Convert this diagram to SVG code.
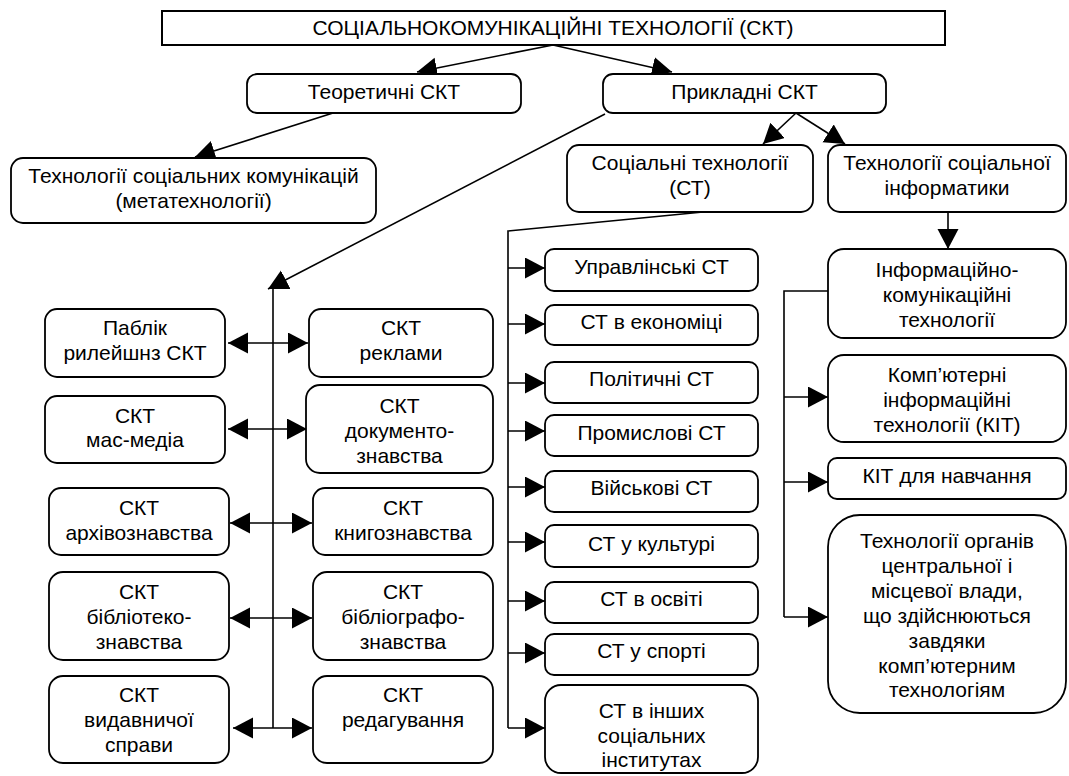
<svg xmlns="http://www.w3.org/2000/svg" width="1069" height="776" viewBox="0 0 1069 776">
<style>
  .box { fill: #fff; stroke: #000; stroke-width: 1.8; }
  .t { font-family: "Liberation Sans", Arial, sans-serif; font-size: 21px; fill: #000; text-anchor: middle; }
  .c { fill: none; stroke: #000; stroke-width: 1.6; }
  .a { marker-end: url(#ah); }
  .d { marker-start: url(#ah); marker-end: url(#ah); }
</style>
<defs>
  <marker id="ah" markerUnits="userSpaceOnUse" markerWidth="21" markerHeight="22" refX="20" refY="10.5" orient="auto-start-reverse" viewBox="0 0 21 22">
    <path d="M0,0 L20,10.5 L0,21 z" fill="#000"/>
  </marker>
</defs>
<rect width="1069" height="776" fill="#fff"/>

<g id="connectors">
  <line class="c a" x1="553" y1="45" x2="417" y2="72"/>
  <line class="c a" x1="553" y1="45" x2="672" y2="72"/>
  <line class="c a" x1="333" y1="113" x2="195" y2="157"/>
  <line class="c a" x1="605" y1="114" x2="268" y2="289"/>
  <line class="c a" x1="796" y1="113" x2="763" y2="144"/>
  <line class="c a" x1="796" y1="113" x2="845" y2="144"/>
  <line class="c a" x1="948" y1="212" x2="948" y2="249"/>
  <!-- left spine -->
  <line class="c" x1="273" y1="288" x2="273" y2="728"/>
  <line class="c d" x1="228" y1="343" x2="308" y2="343"/>
  <line class="c d" x1="228" y1="429" x2="307" y2="429"/>
  <line class="c d" x1="230" y1="523" x2="312" y2="523"/>
  <line class="c d" x1="230" y1="618" x2="312" y2="618"/>
  <line class="c d" x1="233" y1="728" x2="312" y2="728"/>
  <!-- middle spine -->
  <polyline class="c" points="703,212 508,231 508,728"/>
  <line class="c a" x1="508" y1="268" x2="545" y2="268"/>
  <line class="c a" x1="508" y1="324" x2="545" y2="324"/>
  <line class="c a" x1="508" y1="383" x2="545" y2="383"/>
  <line class="c a" x1="508" y1="431" x2="545" y2="431"/>
  <line class="c a" x1="508" y1="487" x2="545" y2="487"/>
  <line class="c a" x1="508" y1="542" x2="545" y2="542"/>
  <line class="c a" x1="508" y1="601" x2="545" y2="601"/>
  <line class="c a" x1="508" y1="653" x2="545" y2="653"/>
  <line class="c a" x1="508" y1="728" x2="545" y2="728"/>
  <!-- right spine -->
  <polyline class="c" points="828,291 784,291 784,617"/>
  <line class="c a" x1="784" y1="397" x2="828" y2="397"/>
  <line class="c a" x1="784" y1="482" x2="828" y2="482"/>
  <line class="c a" x1="784" y1="617" x2="828" y2="617"/>
</g>

<g id="n-title">
  <rect class="box" x="162" y="11" width="783" height="34" style="stroke-width:2"/>
  <text class="t" x="553" y="35">СОЦІАЛЬНОКОМУНІКАЦІЙНІ ТЕХНОЛОГІЇ (СКТ)</text>
</g>
<g id="n-theor">
  <rect class="box" x="247" y="74" width="274" height="39" rx="10"/>
  <text class="t" x="384" y="99">Теоретичні СКТ</text>
</g>
<g id="n-applied">
  <rect class="box" x="603" y="74" width="283" height="39" rx="10"/>
  <text class="t" x="744.5" y="99">Прикладні СКТ</text>
</g>
<g id="n-meta">
  <rect class="box" x="11" y="158" width="365" height="65" rx="12"/>
  <text class="t" x="193.5" y="183">Технології соціальних комунікацій</text>
  <text class="t" x="193.5" y="208">(метатехнології)</text>
</g>
<g id="n-st">
  <rect class="box" x="567" y="145" width="246" height="67" rx="12"/>
  <text class="t" x="690" y="170">Соціальні технології</text>
  <text class="t" x="690" y="195">(СТ)</text>
</g>
<g id="n-tsi">
  <rect class="box" x="828" y="145" width="238" height="67" rx="12"/>
  <text class="t" x="947" y="170">Технології соціальної</text>
  <text class="t" x="947" y="195">інформатики</text>
</g>

<!-- left column -->
<g id="n-pr">
  <rect class="box" x="45" y="309" width="180" height="68" rx="12"/>
  <text class="t" x="135" y="335">Паблік</text>
  <text class="t" x="135" y="360">рилейшнз СКТ</text>
</g>
<g id="n-mm">
  <rect class="box" x="45" y="396" width="180" height="67" rx="12"/>
  <text class="t" x="135" y="423">СКТ</text>
  <text class="t" x="135" y="447">мас-медіа</text>
</g>
<g id="n-arch">
  <rect class="box" x="49" y="488" width="180" height="67" rx="12"/>
  <text class="t" x="139" y="515">СКТ</text>
  <text class="t" x="139" y="540">архівознавства</text>
</g>
<g id="n-bibl">
  <rect class="box" x="49" y="572" width="180" height="88" rx="14"/>
  <text class="t" x="139" y="599">СКТ</text>
  <text class="t" x="139" y="624">бібліотеко-</text>
  <text class="t" x="139" y="649">знавства</text>
</g>
<g id="n-vyd">
  <rect class="box" x="49" y="676" width="180" height="87" rx="14"/>
  <text class="t" x="139" y="702">СКТ</text>
  <text class="t" x="139" y="727">видавничої</text>
  <text class="t" x="139" y="752">справи</text>
</g>

<!-- middle-left column -->
<g id="n-rekl">
  <rect class="box" x="309" y="309" width="184" height="68" rx="12"/>
  <text class="t" x="401" y="335">СКТ</text>
  <text class="t" x="401" y="360">реклами</text>
</g>
<g id="n-doc">
  <rect class="box" x="306" y="385" width="187" height="88" rx="14"/>
  <text class="t" x="399.5" y="413">СКТ</text>
  <text class="t" x="399.5" y="438">документо-</text>
  <text class="t" x="399.5" y="463">знавства</text>
</g>
<g id="n-knyh">
  <rect class="box" x="313" y="488" width="180" height="67" rx="12"/>
  <text class="t" x="403" y="515">СКТ</text>
  <text class="t" x="403" y="540">книгознавства</text>
</g>
<g id="n-bibliogr">
  <rect class="box" x="313" y="572" width="180" height="88" rx="14"/>
  <text class="t" x="403" y="599">СКТ</text>
  <text class="t" x="403" y="624">бібліографо-</text>
  <text class="t" x="403" y="649">знавства</text>
</g>
<g id="n-red">
  <rect class="box" x="313" y="676" width="180" height="87" rx="14"/>
  <text class="t" x="403" y="702">СКТ</text>
  <text class="t" x="403" y="727">редагування</text>
</g>

<!-- middle column -->
<g id="n-upr">
  <rect class="box" x="545" y="249" width="213" height="42" rx="9"/>
  <text class="t" x="651.5" y="274">Управлінські СТ</text>
</g>
<g id="n-ekon">
  <rect class="box" x="545" y="305" width="213" height="40" rx="9"/>
  <text class="t" x="651.5" y="329">СТ в економіці</text>
</g>
<g id="n-polit">
  <rect class="box" x="545" y="362" width="213" height="41" rx="9"/>
  <text class="t" x="651.5" y="386">Політичні СТ</text>
</g>
<g id="n-prom">
  <rect class="box" x="545" y="415" width="213" height="41" rx="9"/>
  <text class="t" x="651.5" y="440">Промислові СТ</text>
</g>
<g id="n-viysk">
  <rect class="box" x="545" y="471" width="213" height="41" rx="9"/>
  <text class="t" x="651.5" y="495">Військові СТ</text>
</g>
<g id="n-kult">
  <rect class="box" x="545" y="525" width="213" height="42" rx="9"/>
  <text class="t" x="651.5" y="551">СТ у культурі</text>
</g>
<g id="n-osv">
  <rect class="box" x="545" y="582" width="213" height="41" rx="9"/>
  <text class="t" x="651.5" y="606">СТ в освіті</text>
</g>
<g id="n-sport">
  <rect class="box" x="545" y="634" width="213" height="41" rx="9"/>
  <text class="t" x="651.5" y="658">СТ у спорті</text>
</g>
<g id="n-inshi">
  <rect class="box" x="545" y="685" width="213" height="88" rx="16"/>
  <text class="t" x="651.5" y="718">СТ в інших</text>
  <text class="t" x="651.5" y="743">соціальних</text>
  <text class="t" x="651.5" y="767">інститутах</text>
</g>

<!-- right column -->
<g id="n-ikt">
  <rect class="box" x="828" y="249" width="238" height="89" rx="16"/>
  <text class="t" x="947" y="277">Інформаційно-</text>
  <text class="t" x="947" y="302">комунікаційні</text>
  <text class="t" x="947" y="327">технології</text>
</g>
<g id="n-kit">
  <rect class="box" x="828" y="355" width="238" height="87" rx="16"/>
  <text class="t" x="947" y="382">Комп’ютерні</text>
  <text class="t" x="947" y="407">інформаційні</text>
  <text class="t" x="947" y="432">технології (КІТ)</text>
</g>
<g id="n-kitn">
  <rect class="box" x="828" y="458" width="238" height="41" rx="9"/>
  <text class="t" x="947" y="483">КІТ для навчання</text>
</g>
<g id="n-org">
  <rect class="box" x="828" y="515" width="238" height="198" rx="32"/>
  <text class="t" x="947" y="548">Технології органів</text>
  <text class="t" x="947" y="573">центральної і</text>
  <text class="t" x="947" y="598">місцевої влади,</text>
  <text class="t" x="947" y="623">що здійснюються</text>
  <text class="t" x="947" y="648">завдяки</text>
  <text class="t" x="947" y="673">комп’ютерним</text>
  <text class="t" x="947" y="697">технологіям</text>
</g>
</svg>
